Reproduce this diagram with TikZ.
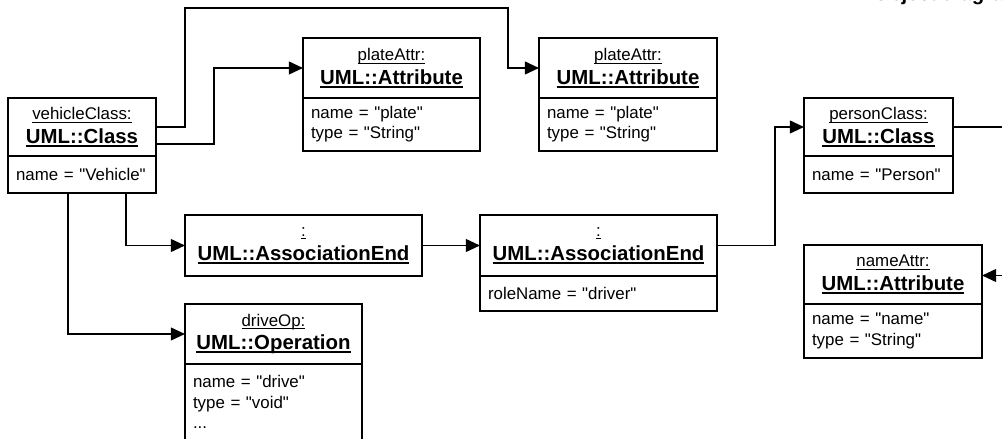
\documentclass[tikz,border=0pt]{standalone}
\usepackage{fontspec}
\setmainfont{Liberation Sans}
\usetikzlibrary{positioning,calc,arrows.meta}

% one pixel of the layout grid
\newlength{\px}\setlength{\px}{0.025cm}

% underlined object name and class name
\newcommand{\objname}[1]{\setbox0\hbox{#1}\leavevmode\rlap{\rule[-2pt]{\wd0}{0.6pt}}\box0}
\newcommand{\classname}[1]{{\fontsize{14.5}{17}\selectfont\bfseries\setbox0\hbox{#1}\leavevmode\rlap{\rule[-2.3pt]{\wd0}{1.2pt}}\box0}}
% straight-quoted value
\newcommand{\qv}[1]{\textquotedbl#1\textquotedbl}

\begin{document}
\begin{tikzpicture}[x=0.025cm, y=-0.025cm,
    objbox/.style={draw, line width=1.4pt, inner sep=0pt, outer sep=0pt},
    objhead/.style={objbox, align=center, font=\fontsize{12}{17}\selectfont},
    objslot/.style={objbox, align=left, inner xsep=8\px, font=\fontsize{12}{14.4}\selectfont},
    link/.style={line width=1.4pt, -{Triangle[length=10pt,width=9pt]}}]

        \useasboundingbox (0,0) rectangle (1002,439);
        \clip (0,0) rectangle (1002,439);

        % Title, running off the top edge
        \node[font=\fontsize{14.5}{17}\selectfont\bfseries, anchor=base west, inner sep=0pt] (title) at (873,1) {Object diagram};

        % Vehicle class object
        \node[objhead, minimum width=148\px, minimum height=58\px, anchor=north west] (veh) at (8,98) {\objname{vehicleClass:}\\\classname{UML::Class}};
        \node[objslot, minimum width=148\px, text width=132\px, minimum height=37\px, below=0pt of veh] (vehB) {name = \qv{Vehicle}};

        % Two attribute objects at the top
        \node[objhead, minimum width=177\px, minimum height=60\px, anchor=north west] (plate1) at (303,38) {\objname{plateAttr:}\\\classname{UML::Attribute}};
        \node[objslot, minimum width=177\px, text width=161\px, minimum height=53\px, below=0pt of plate1] (plate1B) {name = \qv{plate}\\type = \qv{String}};

        \node[objhead, minimum width=178\px, minimum height=60\px, anchor=north west] (plate2) at (539,38) {\objname{plateAttr:}\\\classname{UML::Attribute}};
        \node[objslot, minimum width=178\px, text width=162\px, minimum height=53\px, below=0pt of plate2] (plate2B) {name = \qv{plate}\\type = \qv{String}};

        % Person class object
        \node[objhead, minimum width=149\px, minimum height=58\px, anchor=north west] (person) at (804,98) {\objname{personClass:}\\\classname{UML::Class}};
        \node[objslot, minimum width=149\px, text width=133\px, minimum height=37\px, below=0pt of person] (personB) {name = \qv{Person}};

        % Association ends
        \node[objhead, minimum width=237\px, minimum height=61\px, anchor=north west] (assoc1) at (185,215) {\objname{:}\\\classname{UML::AssociationEnd}};

        \node[objhead, minimum width=237\px, minimum height=61\px, anchor=north west] (assoc2) at (480,215) {\objname{:}\\\classname{UML::AssociationEnd}};
        \node[objslot, minimum width=237\px, text width=221\px, minimum height=35\px, below=0pt of assoc2] (assoc2B) {roleName = \qv{driver}};

        % Operation object (cut by the lower edge)
        \node[objhead, minimum width=177\px, minimum height=60\px, anchor=north west] (drive) at (185,304) {\objname{driveOp:}\\\classname{UML::Operation}};
        \node[objslot, minimum width=177\px, text width=161\px, minimum height=76\px, below=0pt of drive] (driveB) {name = \qv{drive}\\type = \qv{void}\\...};

        % Name attribute of the person class
        \node[objhead, minimum width=178\px, minimum height=59\px, anchor=north west] (nameA) at (804,245) {\objname{nameAttr:}\\\classname{UML::Attribute}};
        \node[objslot, minimum width=178\px, text width=162\px, minimum height=54\px, below=0pt of nameA] (nameAB) {name = \qv{name}\\type = \qv{String}};

        % Helper points for the routed links
        \coordinate (topL) at (185,8);
        \coordinate (topR) at (508,8);
        \coordinate (rightEdge) at (1010,0);

        % Links
        \draw[link] (veh.east) -| (topL) -- (topR) |- (plate2.west);
        \draw[link] ($(veh.east)+(0,17)$) -| ($(plate1.west)+(-89,0)$) -- (plate1.west);
        \draw[link] ($(vehB.south)+(-14,0)$) |- (drive.west);
        \draw[link] ($(vehB.south)+(44,0)$) |- (assoc1.west);
        \draw[link] (assoc1.east) -- (assoc2.west);
        \draw[link] (assoc2.east) -| ($(person.west)+(-29,0)$) -- (person.west);
        \draw[line width=1.4pt] (person.east) -- (person.east -| rightEdge);
        \draw[link] ($(nameA.east -| rightEdge)+(0,1)$) -- ($(nameA.east)+(0,1)$);

\end{tikzpicture}
\end{document}
